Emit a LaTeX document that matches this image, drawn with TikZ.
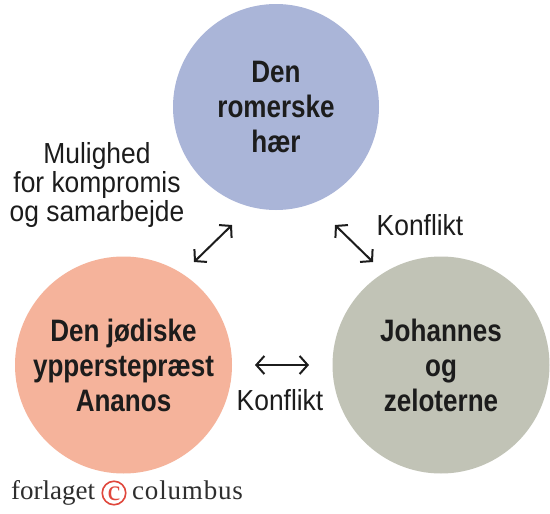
\documentclass[tikz,border=0pt]{standalone}
\usepackage{fontspec}
\setmainfont{Liberation Serif}
\newfontfamily\labfont[FakeStretch=0.91]{Liberation Sans}
\newfontfamily\circfont[FakeStretch=0.84]{Liberation Sans}
\newfontfamily\logowide[LetterSpace=3]{Liberation Serif}
\usetikzlibrary{arrows.meta}
\definecolor{romblue}{HTML}{AAB5D8}
\definecolor{salmon}{HTML}{F5B39B}
\definecolor{sage}{HTML}{C1C3B6}
\definecolor{ink}{HTML}{1C1C1C}
\definecolor{logogray}{HTML}{2E2E2E}
\definecolor{logored}{HTML}{E0473C}
\tikzset{
  party/.style={circle, inner sep=0pt, align=center, text=ink,
    font=\circfont\bfseries\fontsize{31}{35}\selectfont},
  lab/.style={align=center, text=ink, inner sep=0pt,
    font=\labfont\fontsize{29}{29}\selectfont},
  rel/.style={line width=2pt, draw=ink,
    {Straight Barb[length=8pt,width=18pt]}-{Straight Barb[length=8pt,width=18pt]}},
  logo/.style={inner sep=0pt, text=logogray, font=\fontsize{27}{30}\selectfont}
}
\begin{document}
\begin{tikzpicture}[x=1pt,y=-1pt]
\useasboundingbox[fill=white] (0,0) rectangle (550,514);
\node[party, fill=romblue, minimum size=206pt] (rom) at (276,107) {Den\\romerske\\hær};
\node[party, fill=salmon, minimum size=217pt] (ananos) at (123.5,365) {Den jødiske\\ypperstepræst\\Ananos};
\node[party, fill=sage, minimum size=217pt] (joh) at (441,365) {Johannes\\og\\zeloterne};
\node[lab] (mul) at (97,185) {Mulighed\\for kompromis\\og samarbejde};
\node[lab, anchor=base] (k1) at (420,235) {Konflikt};
\node[lab, anchor=base] (k2) at (280,410) {Konflikt};
\coordinate (a1) at (194,262);
\coordinate (a2) at (232,225);
\coordinate (b1) at (335,225);
\coordinate (b2) at (373,262);
\coordinate (c1) at (255,365);
\coordinate (c2) at (309,365);
\draw[rel] (a1) -- (a2);
\draw[rel] (b1) -- (b2);
\draw[rel] (c1) -- (c2);
\node[logo, anchor=base west] (forl) at (11,499) {forlaget};
\node[circle, draw=logored, line width=1.6pt, minimum size=23.5pt, inner sep=0pt] (cc) at (114,493) {};
\node[logo, text=logored, font=\fontsize{29}{30}\selectfont] (ccc) at ([yshift=-1pt]cc.center) {c};
\node[logo, anchor=base west, font=\logowide\fontsize{27}{30}\selectfont] (colu) at (132,499) {columbus};
\end{tikzpicture}
\end{document}
